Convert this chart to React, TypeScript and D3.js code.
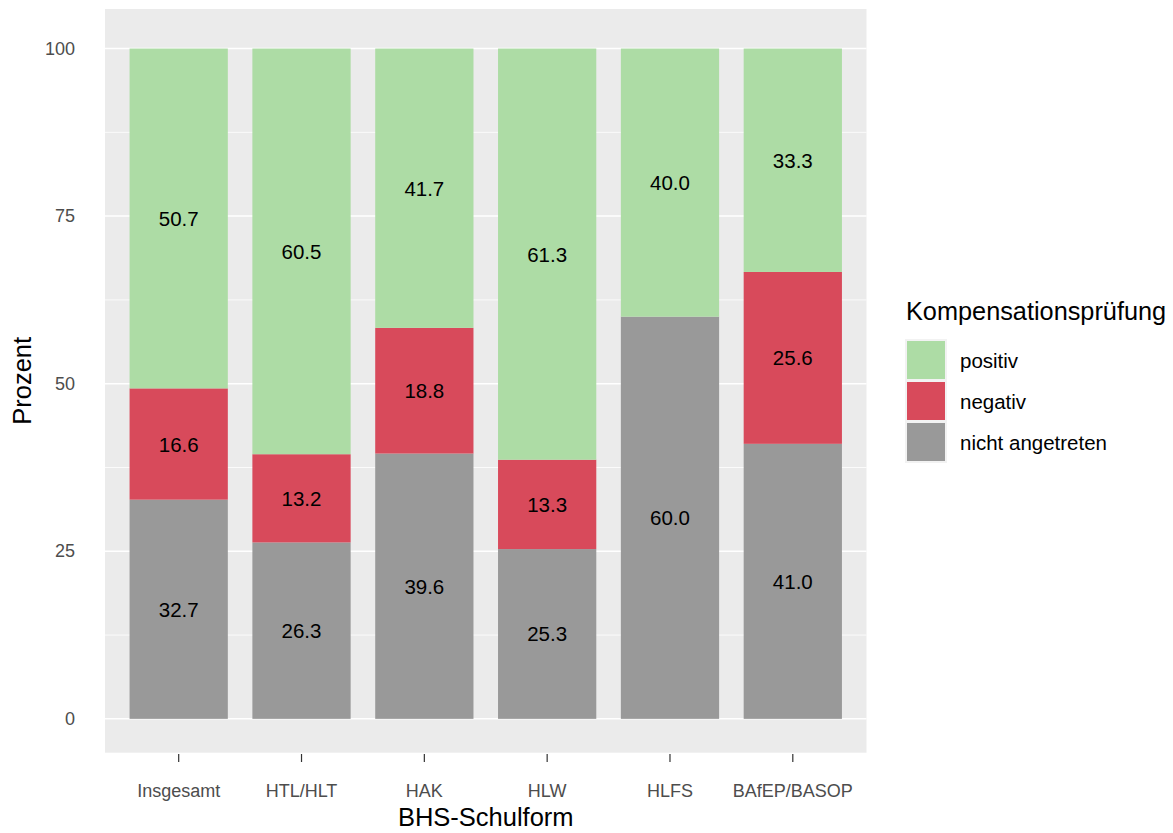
import React from "react";
import * as d3 from "d3";

const categories = ["Insgesamt", "HTL/HLT", "HAK", "HLW", "HLFS", "BAfEP/BASOP"];
const seriesNames = ["nicht angetreten", "negativ", "positiv"];
const nichtAngetreten = [32.7, 26.32, 39.58, 25.33, 60.0, 41.03];
const negativ = [16.6, 13.16, 18.75, 13.33, 0, 25.64];
const positiv = [50.7, 60.52, 41.67, 61.34, 40.0, 33.33];
const yTicks = [0, 25, 50, 75, 100];
const yMinor = [12.5, 37.5, 62.5, 87.5];
const legendOrder = ["positiv", "negativ", "nicht angetreten"];

const colors: Record<string, string> = {
  positiv: "#ADDCA5",
  negativ: "#D84A5B",
  "nicht angetreten": "#999999",
};

const W = 1173;
const H = 833;
const panel = { left: 105, right: 866.5, top: 9, bottom: 752.7 };
const FONT = "'Liberation Sans', Arial, Helvetica, sans-serif";

export default function App() {
  const x = d3
    .scaleBand<string>()
    .domain(categories)
    .range([panel.left, panel.right])
    .paddingInner(0.2)
    .paddingOuter(0.2);
  const y = d3.scaleLinear().domain([-5.05, 105.9]).range([panel.bottom, panel.top]);

  const table = categories.map((c, i) => ({
    cat: c,
    "nicht angetreten": nichtAngetreten[i],
    negativ: negativ[i],
    positiv: positiv[i],
  }));
  const stack = d3.stack<any>().keys(seriesNames);
  const layers = stack(table);

  const keyX = 907;
  const keyY0 = 341;
  const keyStep = 41;
  const keySize = 38;

  return (
    <svg
      width={W}
      height={H}
      style={{ position: "absolute", left: 0, top: 0, background: "#fff" }}
      fontFamily={FONT}
    >
      <rect x={0} y={0} width={W} height={H} fill="#fff" />
      <rect
        x={panel.left}
        y={panel.top}
        width={panel.right - panel.left}
        height={panel.bottom - panel.top}
        fill="#EBEBEB"
      />
      {yMinor.map((t) => (
        <line
          key={"mi" + t}
          x1={panel.left}
          x2={panel.right}
          y1={y(t)}
          y2={y(t)}
          stroke="#fff"
          strokeWidth={0.8}
        />
      ))}
      {yTicks.map((t) => (
        <line
          key={"ma" + t}
          x1={panel.left}
          x2={panel.right}
          y1={y(t)}
          y2={y(t)}
          stroke="#fff"
          strokeWidth={1.5}
        />
      ))}
      {layers.map((layer) =>
        layer.map((d, i) => {
          const bx = x(categories[i])!;
          return (
            <rect
              key={layer.key + i}
              x={bx}
              width={x.bandwidth()}
              y={y(d[1])}
              height={Math.max(0, y(d[0]) - y(d[1]))}
              fill={colors[layer.key]}
            />
          );
        })
      )}
      {layers.map((layer) =>
        layer.map((d, i) => {
          const v = d[1] - d[0];
          if (v <= 0.001) return null;
          const cx = x(categories[i])! + x.bandwidth() / 2;
          return (
            <text
              key={"l" + layer.key + i}
              x={cx}
              y={y((d[0] + d[1]) / 2)}
              textAnchor="middle"
              dominantBaseline="central"
              fontSize={20.5}
              fill="#000"
            >
              {v.toFixed(1)}
            </text>
          );
        })
      )}
      {yTicks.map((t) => (
        <text
          key={"yt" + t}
          x={75}
          y={y(t)}
          textAnchor="end"
          dominantBaseline="central"
          fontSize={18}
          fill="#4D4D4D"
        >
          {t}
        </text>
      ))}
      {categories.map((c) => {
        const cx = x(c)! + x.bandwidth() / 2;
        return (
          <g key={"xt" + c}>
            <line x1={cx} x2={cx} y1={754} y2={762} stroke="#333" strokeWidth={1.2} />
            <text x={cx} y={797} textAnchor="middle" fontSize={18} fill="#4D4D4D">
              {c}
            </text>
          </g>
        );
      })}
      <text
        x={(panel.left + panel.right) / 2}
        y={826}
        textAnchor="middle"
        fontSize={25.5}
        fill="#000"
      >
        BHS-Schulform
      </text>
      <text
        transform={`translate(31,${(panel.top + panel.bottom) / 2}) rotate(-90)`}
        textAnchor="middle"
        fontSize={25.5}
        fill="#000"
      >
        Prozent
      </text>
      <text x={906} y={320} fontSize={25.3} fill="#000">
        Kompensationsprüfung
      </text>
      <rect
        x={keyX - 2}
        y={keyY0 - 2}
        width={keySize + 4}
        height={keyStep * 2 + keySize + 4}
        fill="#F2F2F2"
      />
      {legendOrder.map((k, i) => (
        <g key={"lg" + k}>
          <rect
            x={keyX}
            y={keyY0 + i * keyStep}
            width={keySize}
            height={keySize}
            fill={colors[k]}
          />
          <text
            x={960}
            y={keyY0 + i * keyStep + keySize / 2}
            dominantBaseline="central"
            fontSize={20.5}
            fill="#000"
          >
            {k}
          </text>
        </g>
      ))}
    </svg>
  );
}
